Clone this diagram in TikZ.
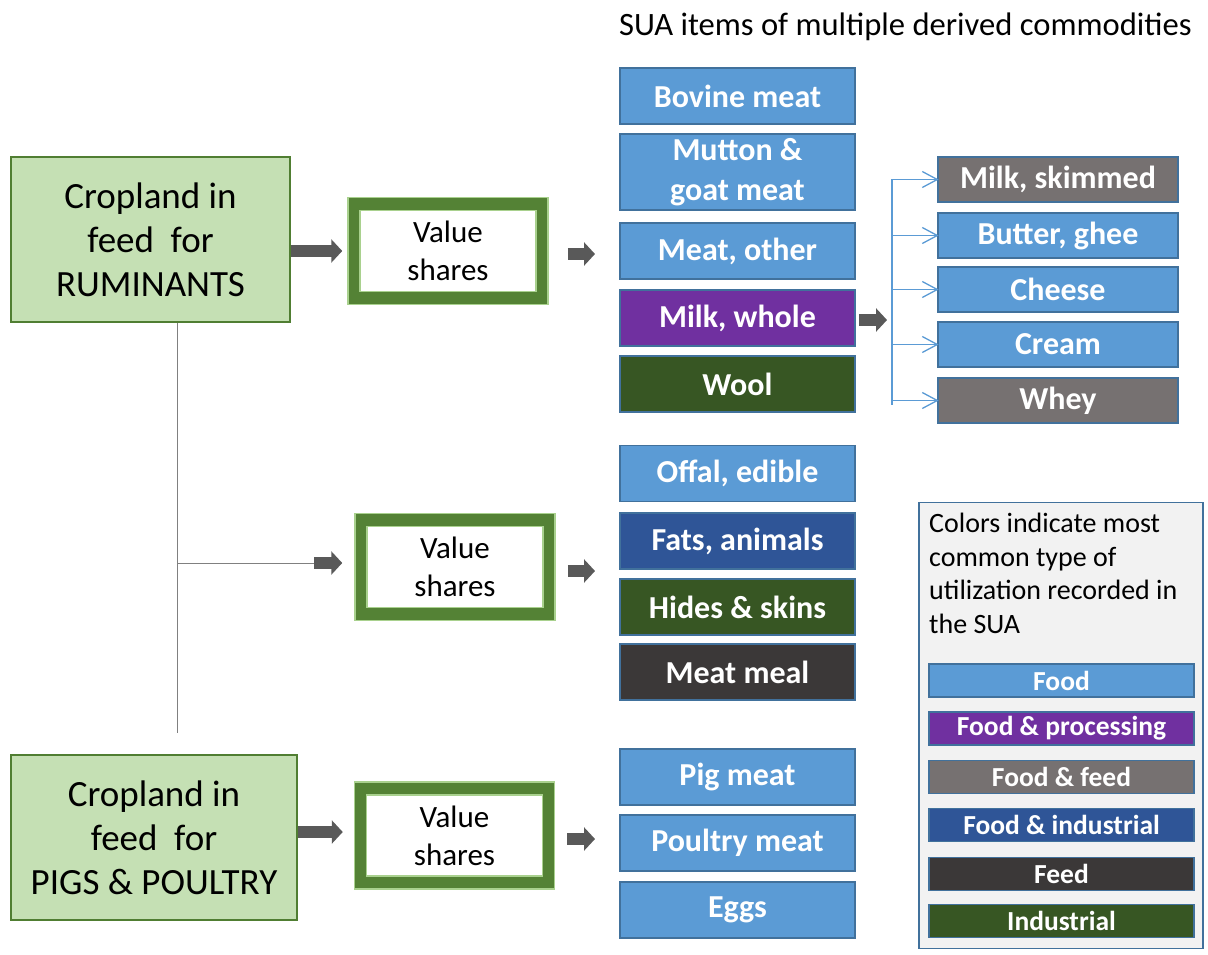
\documentclass[tikz,border=0pt]{standalone}
\usepackage{fontspec}
\setmainfont{Carlito}
\usetikzlibrary{arrows.meta}
\definecolor{crfill}{HTML}{C5E0B4}
\definecolor{crdraw}{HTML}{507E32}
\definecolor{vsband}{HTML}{548235}
\definecolor{vslight}{HTML}{A9D18E}
\definecolor{cfood}{HTML}{5B9BD5}
\definecolor{cproc}{HTML}{7030A0}
\definecolor{cfoodfeed}{HTML}{767171}
\definecolor{cfoodind}{HTML}{2F5597}
\definecolor{cfeed}{HTML}{3B3838}
\definecolor{cindus}{HTML}{375623}
\definecolor{itemdraw}{HTML}{41719C}
\definecolor{arrowgray}{HTML}{595959}
\definecolor{linegray}{HTML}{808080}
\definecolor{legfill}{HTML}{F2F2F2}
\begin{document}
\begin{tikzpicture}[x=1pt,y=-1pt,
  crop/.style={draw=crdraw, line width=2pt, fill=crfill, minimum height=165pt, align=center, font=\fontsize{37}{44}\selectfont, inner sep=0pt},
  vsout/.style={draw=vslight, line width=1.5pt, fill=vsband, minimum width=200pt, minimum height=107pt, inner sep=0pt},
  vsin/.style={draw=vslight, line width=1.5pt, fill=white, minimum width=176pt, minimum height=81pt, align=center, font=\fontsize{31}{38}\selectfont, inner sep=0pt},
  item/.style={draw=itemdraw, line width=1.5pt, text=white, font=\bfseries\fontsize{32}{40}\selectfont, minimum width=235pt, minimum height=56pt, align=center, inner sep=0pt},
  sub/.style={item, minimum width=240pt, minimum height=45pt},
  leg/.style={item, minimum width=265pt, minimum height=33pt, font=\bfseries\fontsize{27.5}{33}\selectfont},
  blk/.style={draw=arrowgray, line width=12pt, -{Triangle[length=11pt,width=23pt,fill=arrowgray]}},
  thinline/.style={draw=linegray, line width=1pt},
  branch/.style={draw=cfood, line width=1.3pt}
]
\path[use as bounding box, fill=white] (0,0) rectangle (1208,955);

% title
\node[anchor=base west, inner sep=0pt, font=\fontsize{32.6}{38}\selectfont] (title) at (619,36) {SUA items of multiple derived commodities};

% cropland boxes
\node[crop, minimum width=279pt] (cr1) at (150.5,239.5) {Cropland in\\feed~ for\\RUMINANTS};
\node[crop, minimum width=286pt] (cr2) at (154,837.5) {Cropland in\\feed~ for\\PIGS \& POULTRY};

% value shares boxes
\node[vsout] (v1) at (448,251) {};
\node[vsin] (v1i) at (v1) {Value\\shares};
\node[vsout] (v2) at (455,567) {};
\node[vsin] (v2i) at (v2) {Value\\shares};
\node[vsout] (v3) at (454.5,835.5) {};
\node[vsin] (v3i) at (v3) {Value\\shares};

% items
\node[item, fill=cfood] (bov) at (737.5,96) {Bovine meat};
\node[item, fill=cfood, minimum height=76pt] (mut) at (737.5,172) {Mutton \&\\goat meat};
\node[item, fill=cfood] (mot) at (737.5,251) {Meat, other};
\node[item, fill=cproc] (milk) at (737.5,318) {Milk, whole};
\node[item, fill=cindus] (wool) at (737.5,384) {Wool};
\node[item, fill=cfood] (off) at (737.5,473.5) {Offal, edible};
\node[item, fill=cfoodind] (fat) at (737.5,541) {Fats, animals};
\node[item, fill=cindus] (hid) at (737.5,607) {Hides \& skins};
\node[item, fill=cfeed] (mm) at (737.5,672) {Meat meal};
\node[item, fill=cfood] (pig) at (737.5,777) {Pig meat};
\node[item, fill=cfood] (pou) at (737.5,843) {Poultry meat};
\node[item, fill=cfood] (egg) at (737.5,910) {Eggs};

% milk products
\node[sub, fill=cfoodfeed] (sk) at (1058,179.5) {Milk, skimmed};
\node[sub, fill=cfood] (bu) at (1058,235.5) {Butter, ghee};
\node[sub, fill=cfood] (ch) at (1058,289.5) {Cheese};
\node[sub, fill=cfood] (crm) at (1058,344.5) {Cream};
\node[sub, fill=cfoodfeed] (wh) at (1058,400.5) {Whey};

% legend
\node[draw=itemdraw, fill=legfill, line width=1.5pt, minimum width=284pt, minimum height=446pt, inner sep=0pt] (lg) at (1061,725.5) {};
\node[anchor=north west, align=left, inner sep=0pt, font=\fontsize{28}{33.5}\selectfont] (lt) at (929,513) {Colors indicate most\\common type of\\utilization recorded in\\the SUA};
\node[leg, fill=cfood] (l1) at (1061.5,680.5) {Food};
\node[leg, fill=cproc] (l2) at (1061.5,728.5) {Food \& processing};
\node[leg, fill=cfoodfeed] (l3) at (1061.5,777) {Food \& feed};
\node[leg, fill=cfoodind] (l4) at (1061.5,825) {Food \& industrial};
\node[leg, fill=cfeed] (l5) at (1061.5,874) {Feed};
\node[leg, fill=cindus] (l6) at (1061.5,921) {Industrial};

% connector coordinates
\coordinate (g1) at (595,254);
\coordinate (g2) at (595,571);
\coordinate (g3) at (595,839);
\coordinate (j1) at (177,563);
\coordinate (e1) at (177,733);
\coordinate (mj) at (892,320);

% thin gray lines
\draw[thinline] (cr1.south -| j1) -- (e1);
\draw[thinline] (j1) -- ([xshift=-40pt]v2.west |- j1);

% block arrows
\draw[blk, shorten >=5pt] (cr1.east |- v1.west) -- (v1.west);
\draw[blk, shorten >=12pt] ([xshift=-40pt]v2.west |- j1) -- (v2.west |- j1);
\draw[blk, shorten >=11pt] (cr2.east |- 0,832) -- (v3.west |- 0,832);
\draw[blk, shorten <=19pt] (v1.east |- g1) -- (g1);
\draw[blk, shorten <=12pt] (v2.east |- g2) -- (g2);
\draw[blk, shorten <=12pt] (v3.east |- g3) -- (g3);
\draw[blk, shorten <=3pt, shorten >=5pt] (milk.east |- mj) -- (mj);

% bracket to milk products (open barbed tips)
\draw[branch] (mj |- sk.west) -- ([yshift=-4pt]mj |- wh.west);
\foreach \n in {sk,bu,ch,crm,wh}{
  \draw[branch] (mj |- \n.west) -- (\n.west);
  \draw[branch, line join=miter] ([xshift=-15pt,yshift=-8pt]\n.west) -- (\n.west) -- ([xshift=-15pt,yshift=8pt]\n.west);
}
\end{tikzpicture}
\end{document}
